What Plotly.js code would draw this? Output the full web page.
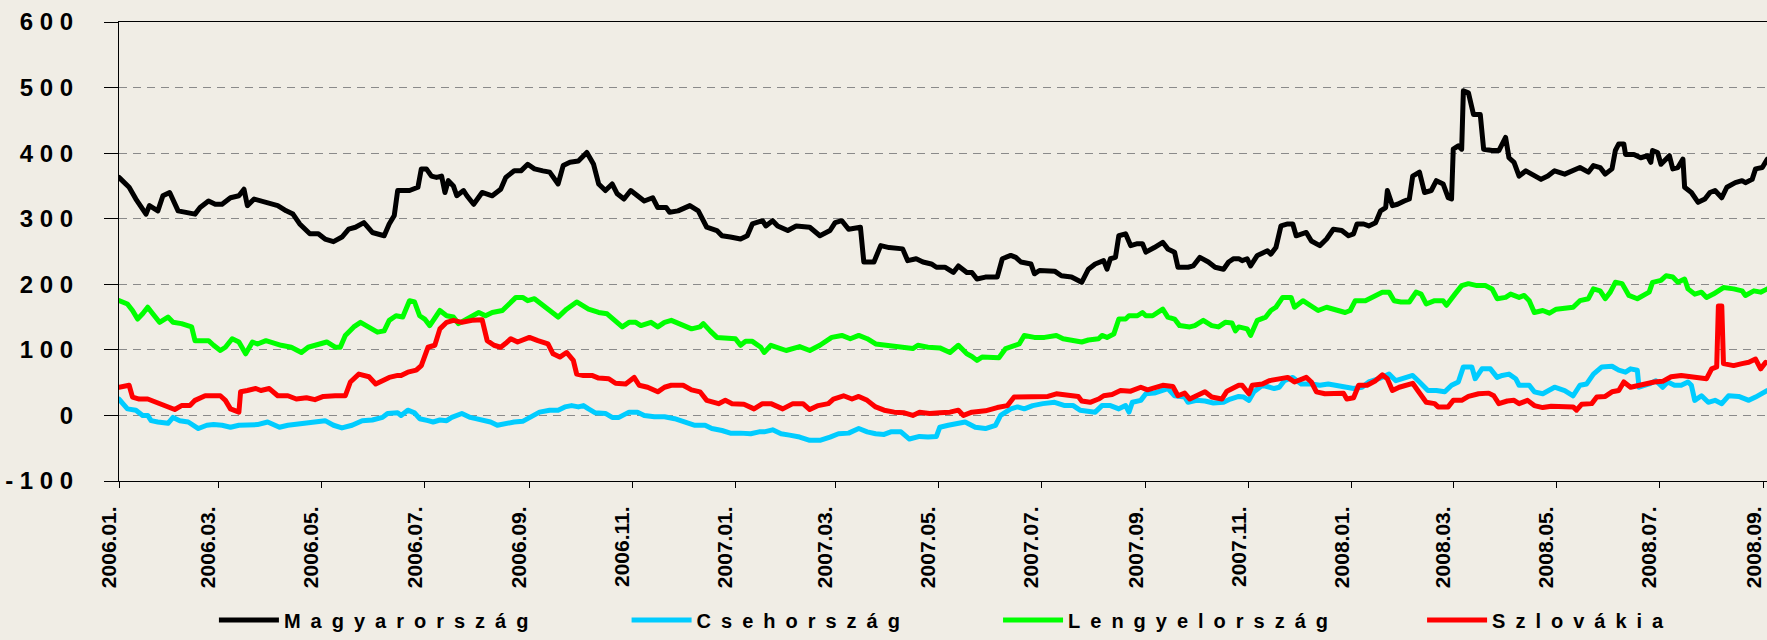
<!DOCTYPE html>
<html>
<head>
<meta charset="utf-8">
<script src="https://cdn.plot.ly/plotly-3.0.1.min.js"></script>
<style>
  html, body { margin: 0; padding: 0; background: #F0EDE5; }
  #chart { width: 1767px; height: 640px; }
  .scatterlayer path.js-line { stroke-linejoin: round; stroke-linecap: round; }
</style>
</head>
<body>
<div id="chart"></div>
<script>
// ---- data: day offsets from 2006-01-01 and values ----
const seriesNames = ['Magyarország', 'Csehország', 'Lengyelország', 'Szlovákia'];
const seriesColors = ['#000000', '#00CCFF', '#00FF00', '#FF0000'];

const magyarDays = [0,6,10,16,18,23,26,30,35,40,
45,48,53,57,61,66,71,74,76,80,
84,89,94,99,103,107,113,118,122,127,
132,136,140,145,150,157,160,163,165,172,
177,179,182,185,188,191,193,195,198,200,
204,206,210,215,221,226,229,234,238,242,
246,251,255,260,263,267,272,277,281,284,
288,292,295,299,303,307,311,316,319,324,
326,331,338,343,348,354,357,362,368,372,
375,381,383,387,390,396,401,409,415,421,
424,428,432,439,441,447,451,456,464,467,
472,476,481,484,489,494,497,502,505,508,
513,520,523,528,531,534,540,542,545,554,
558,564,570,574,578,583,585,587,590,592,
596,599,603,606,608,613,618,621,625,627,
633,636,640,645,649,654,657,660,663,665,
668,670,674,680,682,685,688,692,695,697,
700,703,706,711,715,719,724,728,731,733,
737,740,744,747,750,751,754,757,761,764,
766,770,773,777,780,784,787,789,790,793,
795,796,799,802,806,808,813,817,821,823,
826,829,833,838,842,846,850,856,860,865,
870,873,877,880,884,886,888,891,892,897,
901,905,907,908,911,913,918,920,923,926,
927,931,935,939,942,945,949,952,957,961,
963,967,969,973,976];
const magyarValues = [363,348,330,307,320,312,335,340,312,310,
307,317,327,322,322,332,335,345,320,330,
327,322,320,312,307,292,277,277,269,265,
272,284,287,294,279,274,292,305,343,343,
348,376,376,365,363,365,340,358,350,335,
343,335,322,340,335,345,363,373,373,383,
376,373,371,353,381,386,388,401,383,353,
343,353,338,330,343,335,327,332,317,317,
310,312,320,312,287,282,274,272,269,274,
292,297,289,297,289,282,289,287,274,282,
294,297,284,287,234,234,259,256,254,236,
239,234,231,226,226,218,228,218,218,208,
211,211,239,244,241,234,231,216,221,220,
213,211,203,223,231,236,223,239,241,274,
277,259,262,262,249,256,264,254,249,226,
226,228,241,234,226,223,234,239,239,236,
239,228,244,251,246,256,289,292,292,274,
277,279,266,259,269,284,282,274,277,292,
292,289,294,312,317,343,320,322,327,330,
365,371,340,343,358,353,332,330,406,411,
406,495,492,459,459,406,404,404,424,393,
386,365,373,365,360,365,373,368,373,378,
371,381,378,368,376,404,414,414,398,398,
393,396,386,404,401,383,396,376,378,391,
348,340,325,330,340,343,332,348,355,358,
355,360,376,378,391];

const csehDays = [0,5,10,14,17,19,23,29,32,36,
41,47,52,56,61,66,71,77,82,88,
95,100,106,111,116,122,127,132,138,144,
150,156,159,165,167,171,175,178,183,186,
190,194,197,203,208,215,220,224,229,234,
239,244,249,255,260,264,268,272,275,278,
282,288,292,296,302,307,311,317,323,329,
335,341,347,351,357,362,368,374,379,382,
387,392,397,403,409,415,421,426,432,438,
443,448,453,457,463,468,474,479,484,486,
491,495,501,507,513,519,522,528,532,536,
541,547,554,560,565,569,574,578,582,587,
592,596,598,600,605,608,613,617,621,625,
631,633,638,643,648,654,658,663,666,669,
672,677,681,684,687,690,695,700,706,711,
716,720,726,731,736,740,746,752,756,761,
766,770,775,780,785,789,793,796,801,803,
807,812,816,819,823,827,829,835,838,843,
850,856,861,865,869,873,878,884,888,892,
895,899,900,906,910,914,917,921,925,929,
931,933,937,941,945,949,953,959,965,969,
976];
const csehValues = [25,10,8,0,0,-8,-10,-12,-3,-8,
-10,-20,-15,-14,-15,-18,-15,-15,-14,-10,
-18,-15,-13,-12,-10,-8,-15,-19,-15,-8,
-7,-3,3,4,0,8,4,-5,-8,-10,
-7,-8,-3,3,-3,-8,-10,-15,-12,-10,
-9,-3,5,8,8,13,15,13,15,10,
4,3,-3,-3,5,5,0,-2,-2,-5,
-10,-15,-15,-20,-23,-27,-27,-28,-25,-25,
-22,-28,-30,-33,-38,-38,-33,-28,-27,-20,
-25,-28,-29,-25,-25,-36,-32,-33,-32,-18,
-15,-13,-10,-18,-20,-15,0,10,13,10,
15,18,20,15,15,8,7,5,15,15,
10,15,5,20,23,33,34,38,41,30,
28,20,23,22,19,20,25,29,28,23,
36,46,43,41,43,53,58,48,48,46,
48,46,43,41,43,51,56,63,53,58,
61,51,38,38,36,46,51,74,74,56,
71,71,58,61,63,56,46,46,36,33,
43,38,30,46,48,63,74,75,69,66,
71,69,43,48,53,43,51,46,46,51,
46,23,30,20,23,18,30,29,23,28,
38];

const lengyelDays = [0,5,8,11,14,17,20,24,29,32,
37,43,45,53,56,60,63,67,71,75,
79,82,87,92,96,102,108,112,118,123,
128,131,134,139,143,148,153,157,160,164,
168,172,175,178,181,184,190,194,198,201,
206,213,217,221,227,231,235,239,242,246,
251,255,260,265,271,278,284,289,293,298,
302,306,309,315,319,323,327,331,334,339,
344,346,350,354,365,368,371,375,380,382,
386,390,395,403,409,415,422,428,433,438,
443,448,453,457,465,470,473,479,486,492,
497,502,505,508,511,521,525,530,533,536,
542,548,555,559,565,570,574,580,582,585,
589,592,596,598,603,606,608,612,618,621,
625,628,634,637,642,647,651,655,659,661,
663,668,670,674,679,682,685,689,694,696,
701,705,710,715,720,726,729,732,738,744,
748,752,755,759,764,768,771,774,779,784,
786,791,795,799,804,809,813,816,821,824,
829,832,835,838,843,847,851,861,865,870,
873,877,880,883,886,890,894,899,904,906,
908,913,916,920,923,927,929,933,937,940,
944,950,956,961,963,968,972,976];
const lengyelValues = [175,170,160,147,155,165,155,142,150,142,
140,135,114,114,107,99,104,117,112,94,
112,109,114,109,107,104,96,104,109,112,
104,104,122,135,142,135,127,129,145,152,
150,175,173,152,147,137,160,152,150,140,
147,157,152,157,160,170,180,180,175,178,
168,162,150,162,173,162,157,155,145,135,
142,142,137,142,135,142,145,140,137,132,
135,140,129,119,117,107,113,113,104,96,
107,104,99,105,99,107,119,122,117,122,
117,109,107,107,104,102,107,104,103,96,
107,94,90,84,89,88,102,107,109,122,
119,119,122,117,114,112,115,117,122,119,
124,147,147,152,152,157,152,152,162,150,
147,137,135,137,145,137,135,142,141,129,
135,132,122,145,150,160,165,180,180,165,
175,168,160,165,162,157,160,175,175,183,
188,188,175,173,173,188,185,170,175,175,
168,185,198,201,198,198,193,178,180,185,
180,183,175,157,160,156,162,165,175,178,
193,190,178,188,203,201,183,178,185,188,
203,206,213,211,203,208,193,185,188,180,
185,195,193,190,183,190,188,193];

const szlovakDays = [0,6,8,12,17,22,27,33,37,42,
45,51,55,60,63,66,71,72,76,81,
84,89,94,100,105,111,116,121,128,134,
137,142,148,152,156,160,165,167,171,176,
179,183,187,190,194,198,203,209,215,218,
222,226,229,232,236,243,248,254,257,261,
265,269,271,275,280,284,290,294,300,305,
308,313,319,323,327,331,334,339,344,348,
355,359,363,370,376,381,386,393,399,405,
409,414,420,423,429,434,438,443,448,453,
459,465,470,474,480,486,492,497,500,505,
513,520,526,530,536,544,550,555,562,568,
570,575,580,583,588,593,599,605,609,613,
618,624,627,631,634,638,643,647,653,656,
660,663,665,669,671,677,681,686,692,696,
703,706,709,714,720,725,727,731,734,739,
744,748,751,754,758,762,766,769,774,779,
781,787,790,795,799,805,811,814,817,822,
826,829,834,838,843,848,856,861,863,866,
872,875,880,884,888,891,895,900,905,909,
914,919,925,933,940,943,946,947,949,950,
956,961,965,969,972,975];
const szlovakValues = [43,46,28,25,25,20,13,9,15,15,
23,30,30,30,23,10,5,36,38,41,
38,41,30,30,25,27,24,29,30,30,
51,63,59,48,53,58,61,61,66,69,
76,104,107,132,142,145,142,145,146,114,
107,104,110,117,112,119,114,109,94,89,
96,84,63,61,61,57,56,49,48,58,
46,43,36,43,46,46,46,39,36,23,
18,23,18,17,10,18,18,10,18,18,
9,15,18,25,30,25,29,23,13,8,
5,4,0,5,3,4,5,8,0,5,
7,12,15,28,28,29,29,33,30,29,
22,20,25,30,32,38,37,43,39,42,
46,44,30,34,25,30,36,28,25,37,
43,46,46,33,46,48,53,56,58,51,
58,51,36,33,33,34,25,27,46,46,
53,62,56,38,43,46,49,38,20,18,
13,13,23,23,29,33,34,30,18,22,
23,18,23,15,12,14,14,13,8,17,
18,28,29,36,38,51,43,46,48,51,
52,59,61,59,56,71,74,167,167,79,
76,79,81,86,71,81];

const xTickLabels = ['2006.01.','2006.03.','2006.05.','2006.07.','2006.09.','2006.11.',
  '2007.01.','2007.03.','2007.05.','2007.07.','2007.09.','2007.11.',
  '2008.01.','2008.03.','2008.05.','2008.07.','2008.09.'];
const yTickValues = [-100, 0, 100, 200, 300, 400, 500, 600];

// ---- helpers ----
const T0 = Date.UTC(2006, 0, 1);
function toDate(d) { return new Date(T0 + d * 86400000).toISOString().slice(0, 10); }
function spaced(s, sep) { return s.split('').join(sep); }

const FONT = "'Liberation Sans Narrow', 'Arial Narrow', 'Liberation Sans', Arial, sans-serif";
const allDays = [magyarDays, csehDays, lengyelDays, szlovakDays];
const allVals = [magyarValues, csehValues, lengyelValues, szlovakValues];
const legendKeys = ['legend', 'legend2', 'legend3', 'legend4'];

const traces = seriesNames.map((n, i) => ({
  type: 'scatter', mode: 'lines',
  name: spaced(n, '\u2002'),
  x: allDays[i].map(toDate), y: allVals[i],
  line: { color: seriesColors[i], width: 5 },
  legend: legendKeys[i],
  hoverinfo: 'skip'
}));

const legendX = [0.0576, 0.3080, 0.5334, 0.7907];
const layout = {
  width: 1767, height: 640,
  margin: { l: 119, r: 0, t: 22, b: 159, pad: 0 },
  paper_bgcolor: '#F0EDE5', plot_bgcolor: '#F0EDE5',
  font: { family: FONT, color: '#000000' },
  showlegend: true,
  xaxis: {
    type: 'date',
    range: ['2006-01-01', '2008-09-02 18:43'],
    tickvals: xTickLabels.map(s => s.slice(0, 4) + '-' + s.slice(5, 7) + '-01'),
    ticktext: xTickLabels,
    tickangle: -90,
    tickfont: { family: FONT, size: 21, weight: 'bold', color: '#000' },
    ticks: 'outside', ticklen: 6, tickcolor: '#000', tickwidth: 1,
    ticklabelshift: -10, ticklabelstandoff: 10,
    showline: true, linecolor: '#000', linewidth: 1, mirror: true,
    showgrid: false, zeroline: false, automargin: false, fixedrange: true
  },
  yaxis: {
    range: [-100, 600],
    tickvals: yTickValues,
    ticktext: yTickValues.map(v => spaced(String(v), ' ')),
    tickfont: { family: FONT, size: 24, weight: 'bold', color: '#000' },
    ticks: 'outside', ticklen: 14, tickcolor: '#000', tickwidth: 1,
    ticklabelstandoff: 26,
    showline: true, linecolor: '#000', linewidth: 1,
    showgrid: true, gridcolor: '#8a8a8a', gridwidth: 1, griddash: '8px,6px',
    zeroline: false, automargin: false, fixedrange: true
  }
};
legendKeys.forEach((k, i) => {
  layout[k] = {
    x: legendX[i], xanchor: 'left', y: -0.303, yanchor: 'middle',
    orientation: 'h', bgcolor: 'rgba(0,0,0,0)', borderwidth: 0,
    itemwidth: 60,
    font: { family: FONT, size: 20, weight: 'bold', color: '#000' }
  };
});

Plotly.newPlot('chart', traces, layout, { staticPlot: true, displayModeBar: false });
</script>
</body>
</html>
